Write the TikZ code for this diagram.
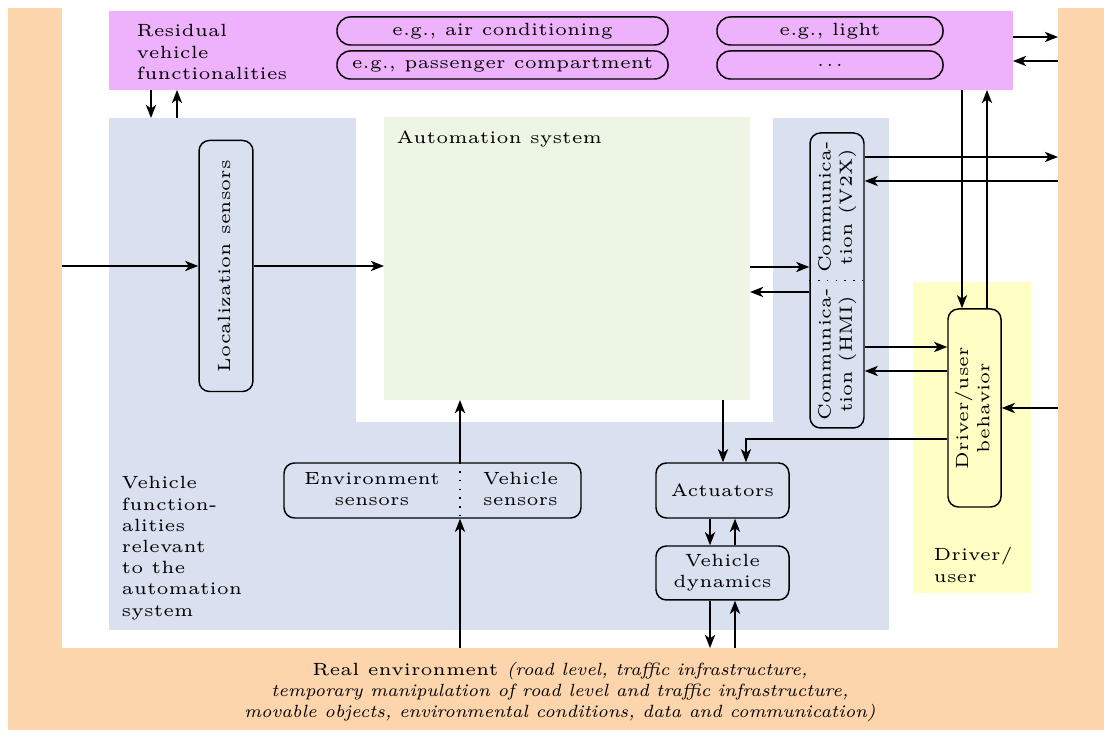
\documentclass[tikz,border=0pt]{standalone}
\usetikzlibrary{arrows.meta}
\definecolor{realenv}{RGB}{253,213,172}
\definecolor{residviolet}{RGB}{238,177,252}
\definecolor{vehblue}{RGB}{217,224,240}
\definecolor{autogreen}{RGB}{237,246,228}
\definecolor{drvyellow}{RGB}{255,255,197}
\newcommand{\vtext}[1]{\rotatebox{90}{\begin{tabular}{@{}c@{}}#1\end{tabular}}}
\begin{document}
\begin{tikzpicture}[x=0.96cm,y=0.96cm,font={\fontsize{4.83}{5.79}\selectfont},
  >={Stealth[length=3.6pt,width=2.8pt,inset=1pt]},
  region/.style={inner sep=0pt,outer sep=0pt},
  block/.style={draw,rounded corners=1mm,align=center,inner sep=1pt},
  pill/.style={draw,rounded corners=1.3mm,minimum height=0.269cm,inner sep=0pt}]
\useasboundingbox (0,0) rectangle (11.04,7.30);
\fill[realenv] (0.08,0) rectangle (11.04,7.22);
\node[region,fill=white,minimum width=9.562cm,minimum height=6.144cm] (inner) at (5.60,4.02) {};
\node[region,fill=residviolet,minimum width=8.678cm,minimum height=0.758cm] (resid) at (5.61,6.795) {};
\node[region,fill=vehblue,minimum width=7.488cm,minimum height=4.915cm] (vfun) at (4.99,3.56) {};
\fill[white] (3.56,6.12) rectangle (7.73,3.08);
\node[region,fill=autogreen,minimum width=3.514cm,minimum height=2.717cm] (auto) at (5.67,4.715) {};
\fill[drvyellow] (9.13,4.48) rectangle (10.31,1.37);
\node[anchor=north west,align=left,inner sep=0pt] (residlbl) at (1.36,7.06) {Residual\\vehicle\\functionalities};
\node[pill,minimum width=3.178cm] (aircon) at (5.025,6.99) {e.g., air conditioning};
\node[pill,minimum width=3.178cm] (passcomp) at (5.025,6.65) {e.g., passenger compartment};
\node[pill,minimum width=2.17cm] (light) at (8.30,6.99) {e.g., light};
\node[pill,minimum width=2.17cm] (more) at (8.30,6.65) {.\kern0.6pt.\kern0.6pt.};
\node[anchor=north west,inner sep=0pt] (autolbl) at (3.96,6.00) {Automation system};
\node[anchor=north west,align=left,inner sep=0pt] (vfunlbl) at (1.21,2.54) {Vehicle\\function-\\alities\\relevant\\to the\\automation\\system};
\node[anchor=north west,align=left,inner sep=0pt] (drvlbl) at (9.33,1.83) {Driver/\\user};
\node[block,minimum width=0.518cm,minimum height=2.41cm] (loc) at (2.26,4.64) {\vtext{Localization sensors}};
\node[block,minimum width=0.518cm,minimum height=2.832cm] (comm) at (8.37,4.495) {};
\node (commv2x) at (8.37,5.23) {\vtext{Communica-\\tion (V2X)}};
\node (commhmi) at (8.37,3.755) {\vtext{Communica-\\tion (HMI)}};
\draw[dotted] (comm.west) -- (comm.east);
\node[block,minimum width=0.509cm,minimum height=1.901cm] (drv) at (9.745,3.22) {\vtext{Driver/user\\behavior}};
\node[block,minimum width=2.851cm,minimum height=0.528cm] (sens) at (4.325,2.395) {};
\node (envsens) at (3.72,2.395) {\begin{tabular}{@{}c@{}}Environment\\sensors\end{tabular}};
\node (vehsens) at (5.205,2.395) {\begin{tabular}{@{}c@{}}Vehicle\\sensors\end{tabular}};
\draw[dotted] (sens.north -| 4.60,0) -- (sens.south -| 4.60,0);
\node[block,minimum width=1.277cm,minimum height=0.528cm] (act) at (7.225,2.395) {Actuators};
\node[block,minimum width=1.277cm,minimum height=0.518cm] (dyn) at (7.225,1.57) {Vehicle\\dynamics};
\node[align=center,inner sep=0pt] (envlbl) at (5.60,0.38) {Real environment \textit{(road level, traffic infrastructure,}\\\textit{temporary manipulation of road level and traffic infrastructure,}\\\textit{movable objects, environmental conditions, data and communication)}};
\draw[->] (resid.south -| 1.51,0) -- (vfun.north -| 1.51,0);
\draw[<-] (resid.south -| 1.77,0) -- (vfun.north -| 1.77,0);
\draw[->] (resid.east |- 0,6.93) -- (inner.east |- 0,6.93);
\draw[<-] (resid.east |- 0,6.69) -- (inner.east |- 0,6.69);
\draw[->] (resid.south -| 9.62,0) -- (drv.north -| 9.62,0);
\draw[<-] (resid.south -| 9.87,0) -- (drv.north -| 9.87,0);
\draw[->] (inner.west |- loc.west) -- (loc.west);
\draw[->] (loc.east) -- (auto.west |- loc.east);
\draw[->] (auto.east |- 0,4.63) -- (comm.west |- 0,4.63);
\draw[<-] (auto.east |- 0,4.38) -- (comm.west |- 0,4.38);
\draw[->] (comm.east |- 0,5.73) -- (inner.east |- 0,5.73);
\draw[<-] (comm.east |- 0,5.49) -- (inner.east |- 0,5.49);
\draw[->] (comm.east |- 0,3.83) -- (drv.west |- 0,3.83);
\draw[<-] (comm.east |- 0,3.59) -- (drv.west |- 0,3.59);
\draw[<-] (drv.east) -- (inner.east |- drv.east);
\draw[->] (drv.west |- 0,2.91) -| (act.north -| 7.46,0);
\draw[->] (auto.south -| 7.23,0) -- (act.north -| 7.23,0);
\draw[->] (act.south -| 7.10,0) -- (dyn.north -| 7.10,0);
\draw[<-] (act.south -| 7.35,0) -- (dyn.north -| 7.35,0);
\draw[->] (dyn.south -| 7.10,0) -- (inner.south -| 7.10,0);
\draw[<-] (dyn.south -| 7.35,0) -- (inner.south -| 7.35,0);
\draw[<-] (sens.south -| 4.60,0) -- (inner.south -| 4.60,0);
\draw[->] (sens.north -| 4.60,0) -- (auto.south -| 4.60,0);
\end{tikzpicture}
\end{document}
